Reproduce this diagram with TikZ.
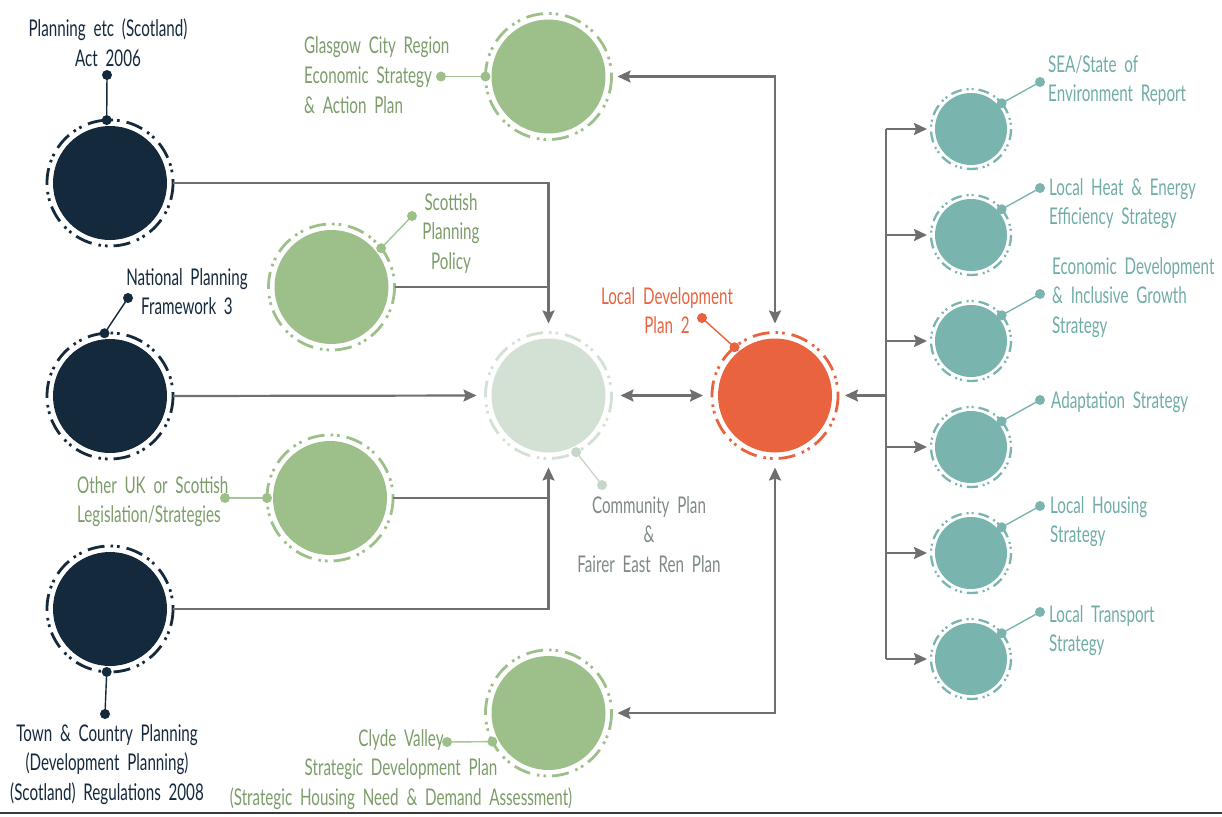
\documentclass[tikz,border=0pt]{standalone}
\usepackage{fontspec}
\setmainfont{Lato}[FakeStretch=0.66, WordSpace=2.0]
\usetikzlibrary{arrows.meta}
\definecolor{navy}{HTML}{15293D}
\definecolor{leaf}{HTML}{9DC08A}
\definecolor{leaftext}{HTML}{7C9C69}
\definecolor{leafpin}{HTML}{A4C594}
\definecolor{mist}{HTML}{D3E1D5}
\definecolor{misttext}{HTML}{7E8A83}
\definecolor{mistpin}{HTML}{C6D7C9}
\definecolor{coral}{HTML}{E9633F}
\definecolor{teal}{HTML}{79B4AF}
\definecolor{tealtext}{HTML}{6FACA7}
\definecolor{conncol}{HTML}{6F6F6F}
\definecolor{rulecol}{HTML}{3A3A3A}
\newcommand\mylbl[2]{\begin{tabular}[t]{@{}#1@{}}#2\end{tabular}}
\tikzset{
  big/.style={circle, minimum size=114pt, inner sep=0pt, outer sep=6pt, fill=#1, draw=none},
  small/.style={circle, minimum size=72pt, inner sep=0pt, outer sep=4pt, fill=#1, draw=none},
  bigring/.style={draw=#1, line width=2.8pt, dash pattern=on 17pt off 6pt on 2.6pt off 4pt on 2.6pt off 7pt},
  smallring/.style={draw=#1, line width=2.3pt, dash pattern=on 11pt off 5pt on 2pt off 3pt on 2pt off 5pt},
  conn/.style={draw=conncol, line width=2.2pt},
  tip/.style={-{Stealth[length=13pt,width=12pt,inset=2pt]}},
  dtip/.style={{Stealth[length=13pt,width=12pt,inset=2pt]}-{Stealth[length=13pt,width=12pt,inset=2pt]}},
  lbl/.style={inner sep=0pt, anchor=base, font=\fontsize{23}{29.5}\selectfont, text=#1},
  pinline/.style={draw=#1, line width=1.4pt},
}
\begin{document}
\begin{tikzpicture}[x=1pt,y=-1pt]
\useasboundingbox (0,0) rectangle (1222,816);

% circles
\node[big=navy] (nav1) at (110,183) {};
\node[big=navy] (nav2) at (110,396) {};
\node[big=navy] (nav3) at (110,609) {};
\node[big=leaf] (glas) at (548.5,76.5) {};
\node[big=leaf] (spp) at (331.5,287) {};
\node[big=leaf] (oth) at (330,498) {};
\node[big=leaf] (clyde) at (548.5,713) {};
\node[big=mist] (comm) at (548.5,395.5) {};
\node[big=coral] (ldp) at (775,395.5) {};
\node[small=teal] (t1) at (971,129) {};
\node[small=teal] (t2) at (971,235) {};
\node[small=teal] (t3) at (971,341) {};
\node[small=teal] (t4) at (971,447) {};
\node[small=teal] (t5) at (971,553) {};
\node[small=teal] (t6) at (971,659) {};

% rings
\foreach \n in {nav1,nav2,nav3} \draw[bigring=navy] (\n.center) circle[radius=63];
\foreach \n in {glas,spp,oth,clyde} \draw[bigring=leaf] (\n.center) circle[radius=63];
\draw[bigring=mist] (comm.center) circle[radius=63];
\draw[bigring=coral] (ldp.center) circle[radius=63];
\foreach \n in {t1,t2,t3,t4,t5,t6} \draw[smallring=teal] (\n.center) circle[radius=40];

% connectors
\draw[conn,tip,shorten >=9pt] (nav1.east) -| (comm.north);
\draw[conn] (spp.east) -- (spp.east -| comm.north);
\draw[conn,tip,shorten >=9pt] (nav2.east) -- (comm.west);
\draw[conn,tip,shorten >=9pt] (nav3.east) -| (comm.south);
\draw[conn] (oth.east) -- (oth.east -| comm.south);
\draw[conn,dtip,shorten >=9pt,shorten <=9pt] (comm.east) -- (ldp.west);
\draw[conn,dtip,shorten >=9pt,shorten <=6pt] (glas.east) -| (ldp.north);
\draw[conn,dtip,shorten >=9pt,shorten <=6pt] (clyde.east) -| (ldp.south);
\coordinate (bus) at (886,395.5);
\draw[conn,tip,shorten >=7pt] (bus) -- (ldp.east);
\draw[conn] (t1.west -| bus) -- (t6.west -| bus);
\foreach \n in {t1,t2,t3,t4,t5,t6} \draw[conn,tip,shorten >=4pt] (\n.west -| bus) -- (\n.west);

% pins
\coordinate (nav1end) at (107,75);
\coordinate (nav2end) at (128,298);
\coordinate (nav3end) at (105,714);
\coordinate (glasend) at (441,76.5);
\coordinate (sppend) at (412,216);
\coordinate (othend) at (225,498);
\coordinate (clydeend) at (447,742);
\coordinate (commend) at (602,485);
\coordinate (ldpend) at (702,318);
\coordinate (t1end) at (1040,82);
\coordinate (t2end) at (1040,188);
\coordinate (t3end) at (1040,294);
\coordinate (t4end) at (1040,400);
\coordinate (t5end) at (1040,506);
\coordinate (t6end) at (1040,612);
\draw[pinline=navy] (nav1.93) -- (nav1end);
\draw[pinline=navy] (nav2.95) -- (nav2end);
\draw[pinline=navy] (nav3.-93) -- (nav3end);
\fill[navy] (nav1.93) circle[radius=5] (nav1end) circle[radius=5]
  (nav2.95) circle[radius=5] (nav2end) circle[radius=5]
  (nav3.-93) circle[radius=5] (nav3end) circle[radius=5];
\draw[pinline=leafpin] (glas.180) -- (glasend);
\draw[pinline=leafpin] (spp.38) -- (sppend);
\draw[pinline=leafpin] (oth.180) -- (othend);
\draw[pinline=leafpin] (clyde.207) -- (clydeend);
\fill[leaf] (glas.180) circle[radius=5] (glasend) circle[radius=5]
  (spp.38) circle[radius=5] (sppend) circle[radius=5]
  (oth.180) circle[radius=5] (othend) circle[radius=5]
  (clyde.207) circle[radius=5] (clydeend) circle[radius=5];
\draw[pinline=mistpin] (comm.-64) -- (commend);
\fill[mistpin] (comm.-64) circle[radius=5] (commend) circle[radius=5];
\draw[pinline=coral] (ldp.130) -- (ldpend);
\fill[coral] (ldp.130) circle[radius=5] (ldpend) circle[radius=5];
\foreach \n in {t1,t2,t3,t4,t5,t6} {
  \draw[pinline=teal] (\n.40) -- (\n end);
  \fill[teal] (\n.40) circle[radius=5] (\n end) circle[radius=5];
}

% labels
\node[lbl=navy] (nav1lbl) at (108,37) {\mylbl{c}{Planning etc (Scotland)\\Act 2006}};
\node[lbl=navy] (nav2lbl) at (187,285) {\mylbl{c}{National Planning\\Framework 3}};
\node[lbl=navy] (nav3lbl) at (107,741) {\mylbl{c}{Town \& Country Planning\\(Development Planning)\\(Scotland) Regulations 2008}};
\node[lbl=leaftext, anchor=base west] (glaslbl) at (304,54) {\mylbl{l}{Glasgow City Region\\Economic Strategy\\\& Action Plan}};
\node[lbl=leaftext] (spplbl) at (451,210) {\mylbl{c}{Scottish\\Planning\\Policy}};
\node[lbl=leaftext, anchor=base west] (othlbl) at (77,493) {\mylbl{l}{Other UK or Scottish\\Legislation/Strategies}};
\node[lbl=leaftext] (clydelbl) at (401,746) {\mylbl{c}{Clyde Valley\\Strategic Development Plan\\(Strategic Housing Need \& Demand Assessment)}};
\node[lbl=misttext] (commlbl) at (649,513) {\mylbl{c}{Community Plan\\\&\\Fairer East Ren Plan}};
\node[lbl=coral] (ldplbl) at (667,304) {\mylbl{c}{Local Development\\Plan 2}};
\node[lbl=tealtext, anchor=base west] (t1lbl) at (1048,72) {\mylbl{l}{SEA/State of\\Environment Report}};
\node[lbl=tealtext, anchor=base west] (t2lbl) at (1049,195) {\mylbl{l}{Local Heat \& Energy\\Efficiency Strategy}};
\node[lbl=tealtext, anchor=base west] (t3lbl) at (1052,274) {\mylbl{l}{Economic Development\\\& Inclusive Growth\\Strategy}};
\node[lbl=tealtext, anchor=base west] (t4lbl) at (1051,408) {\mylbl{l}{Adaptation Strategy}};
\node[lbl=tealtext, anchor=base west] (t5lbl) at (1050,513) {\mylbl{l}{Local Housing\\Strategy}};
\node[lbl=tealtext, anchor=base west] (t6lbl) at (1049,622) {\mylbl{l}{Local Transport\\Strategy}};

% bottom rule
\coordinate (ruleL) at (0,813);
\coordinate (ruleR) at (1222,813);
\draw[rulecol, line width=2pt] (ruleL) -- (ruleR);
\end{tikzpicture}
\end{document}
